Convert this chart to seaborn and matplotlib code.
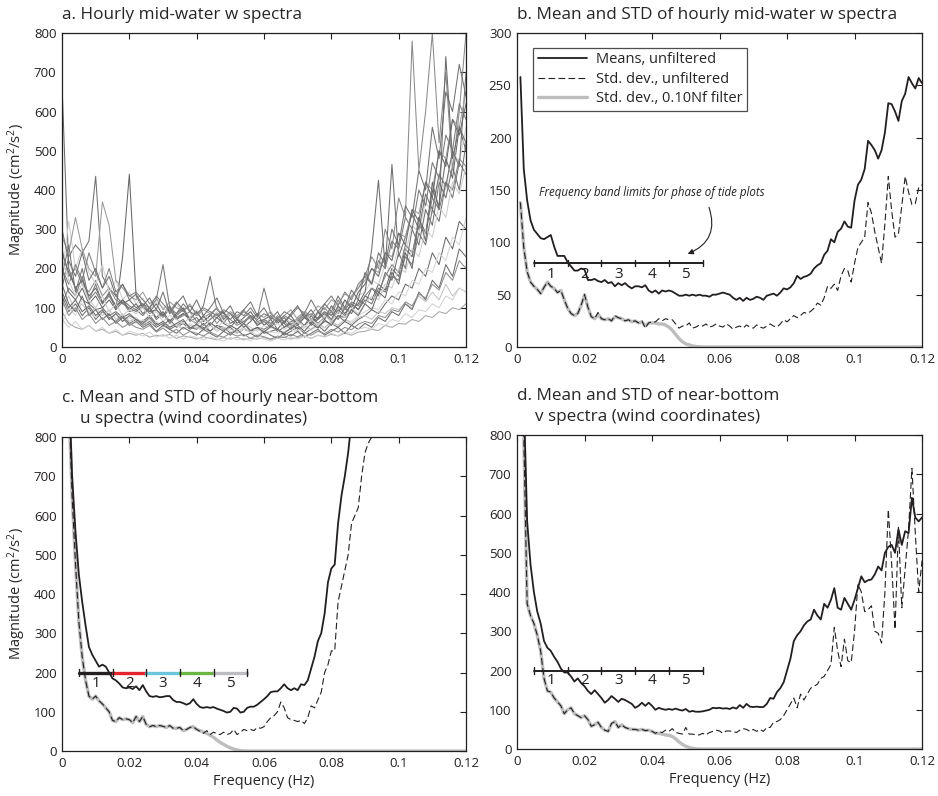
import numpy as np
import pandas as pd
import matplotlib
matplotlib.use("Agg")
import matplotlib.pyplot as plt
import seaborn as sns

# ---- data ----
x_ticks = [0, 0.02, 0.04, 0.06, 0.08, 0.1, 0.12]
x_tick_labels = ["0", "0.02", "0.04", "0.06", "0.08", "0.1", "0.12"]

# panel a: a sample of hourly mid-water w spectra, frequency bins every 0.002 Hz
a_trace_1 = [670, 200, 150, 120, 110, 95, 100, 80, 90, 75, 85,
             70, 65, 80, 60, 55, 70, 50, 60, 45, 55, 50, 40, 55, 45, 50, 35, 45, 40, 50, 35,
             40, 45, 30, 40, 50, 35, 45, 55, 40, 60, 50, 65, 55, 70,
             80, 95, 85, 110, 130, 120, 160, 150, 200, 180, 240, 210, 280, 250, 320, 300]
a_trace_2 = [150, 230, 260, 240, 270, 435, 180, 150, 130, 110, 120,
             100, 110, 90, 95, 80, 105, 75, 85, 70, 90, 65, 80, 75, 60, 85, 70, 65, 80, 55, 70,
             60, 75, 50, 65, 70, 55, 80, 60, 75, 90, 70, 100, 85, 120,
             110, 150, 130, 190, 170, 240, 200, 300, 260, 350, 310, 420, 380, 460, 400, 520]
a_trace_3 = [200, 140, 120, 150, 110, 130, 100, 120, 95, 230, 440,
             130, 100, 90, 110, 80, 95, 70, 85, 75, 90, 65, 80, 100, 70, 85, 60, 75, 90, 65, 70,
             80, 60, 75, 55, 70, 85, 60, 75, 90, 70, 105, 85, 110, 95,
             130, 120, 160, 145, 200, 180, 250, 230, 330, 290, 400, 360, 480, 430, 560, 500]
a_trace_4 = [90, 60, 50, 45, 55, 40, 45, 35, 40, 30, 35,
             30, 35, 25, 30, 28, 32, 22, 28, 25, 20, 26, 22, 18, 24, 20, 25, 18, 22, 20, 24,
             19, 22, 25, 20, 24, 28, 22, 30, 26, 32, 28, 35, 30, 38,
             40, 45, 42, 55, 50, 60, 58, 70, 65, 80, 75, 90, 85, 100, 95, 110]
a_trace_5 = [250, 180, 200, 160, 140, 170, 130, 150, 120, 110, 100,
             90, 105, 85, 95, 75, 100, 70, 80, 90, 65, 75, 85, 60, 80, 70, 55, 65, 75, 60, 70,
             55, 80, 65, 50, 75, 90, 70, 85, 100, 80, 120, 95, 130, 150,
             180, 230, 200, 300, 250, 380, 330, 780, 450, 600, 800, 520, 700, 450, 600, 800]
a_trace_6 = [180, 320, 200, 250, 190, 160, 210, 140, 170, 120, 140,
             110, 125, 95, 115, 100, 85, 110, 90, 75, 95, 80, 70, 90, 65, 85, 75, 60, 80, 70, 55,
             75, 65, 80, 60, 70, 90, 65, 85, 75, 100, 90, 115, 105, 130,
             140, 170, 160, 210, 190, 260, 240, 310, 290, 370, 340, 430, 400, 500, 470, 560]
a_trace_7 = [130, 90, 110, 80, 100, 70, 90, 75, 65, 80, 60,
             70, 55, 65, 50, 60, 45, 55, 65, 50, 45, 60, 40, 55, 50, 35, 45, 60, 40, 50, 45,
             55, 40, 50, 60, 45, 55, 70, 50, 65, 60, 80, 75, 95, 110,
             140, 250, 425, 200, 465, 230, 280, 340, 300, 390, 350, 440, 410, 500, 460, 700]
a_trace_8 = [60, 100, 80, 120, 90, 75, 95, 70, 85, 65, 75,
             60, 70, 55, 65, 50, 60, 55, 45, 60, 50, 40, 55, 45, 50, 40, 35, 45, 40, 30, 42,
             38, 35, 40, 45, 35, 50, 42, 55, 48, 60, 55, 70, 65, 80,
             90, 100, 95, 120, 110, 140, 130, 170, 160, 200, 190, 240, 220, 280, 260, 330]
a_trace_9 = [110, 150, 130, 180, 120, 140, 110, 130, 100, 120, 105,
             95, 110, 100, 120, 210, 100, 85, 110, 90, 80, 105, 180, 95, 85, 70, 90, 80, 100, 75, 150,
             85, 70, 90, 80, 100, 85, 120, 90, 110, 130, 105, 140, 120, 160,
             180, 160, 220, 200, 270, 250, 330, 300, 400, 360, 470, 430, 540, 500, 620, 580]
a_trace_10 = [280, 240, 330, 250, 200, 180, 370, 310, 170, 150, 130,
              120, 140, 110, 125, 95, 115, 100, 90, 110, 80, 95, 85, 100, 75, 90, 80, 95, 70, 85, 75,
              90, 65, 80, 95, 70, 90, 80, 105, 95, 120, 110, 135, 125, 150,
              170, 200, 190, 240, 230, 290, 280, 350, 340, 420, 400, 500, 480, 580, 560, 650]
a_trace_11 = [100, 130, 90, 110, 85, 100, 80, 95, 70, 85, 65,
              75, 60, 70, 55, 65, 50, 60, 45, 55, 50, 45, 55, 40, 50, 45, 40, 50, 35, 45, 40,
              50, 45, 35, 50, 40, 55, 45, 60, 50, 65, 55, 70, 60, 75,
              80, 70, 90, 85, 100, 95, 110, 100, 130, 115, 140, 120, 160, 130, 150, 140]
a_trace_12 = [200, 160, 210, 170, 240, 190, 150, 200, 140, 160, 130,
              140, 120, 100, 130, 110, 90, 115, 95, 105, 85, 100, 90, 80, 95, 85, 75, 90, 80, 70, 85,
              75, 65, 80, 70, 60, 75, 85, 70, 90, 80, 100, 95, 115, 105,
              130, 150, 140, 180, 210, 190, 260, 240, 310, 290, 380, 350, 420, 400, 480, 460]
a_trace_13 = [160, 110, 90, 130, 80, 95, 70, 85, 60, 75, 55,
              65, 50, 60, 40, 55, 45, 35, 50, 40, 30, 45, 35, 25, 40, 30, 45, 28, 35, 25, 40,
              30, 22, 35, 28, 40, 25, 35, 45, 30, 40, 50, 35, 55, 45,
              60, 50, 75, 65, 90, 80, 110, 95, 140, 120, 170, 150, 210, 180, 250, 230]
a_trace_14 = [300, 220, 180, 240, 170, 200, 150, 180, 130, 160, 120,
              135, 105, 125, 95, 140, 85, 110, 130, 90, 120, 80, 100, 125, 85, 105, 70, 95, 115, 80, 100,
              70, 90, 60, 85, 105, 75, 95, 70, 110, 90, 130, 100, 145, 120,
              190, 160, 240, 210, 300, 260, 360, 330, 450, 400, 560, 480, 650, 600, 720, 640]
a_trace_15 = [70, 50, 65, 45, 55, 40, 50, 35, 45, 30, 40,
              35, 28, 38, 25, 32, 22, 30, 20, 28, 24, 18, 26, 20, 15, 25, 18, 22, 16, 24, 20,
              15, 22, 18, 25, 20, 28, 22, 30, 25, 35, 28, 40, 35, 45,
              50, 45, 60, 55, 70, 65, 85, 75, 95, 90, 110, 100, 130, 120, 150, 140]
a_trace_16 = [240, 190, 150, 170, 130, 150, 115, 135, 105, 120, 95,
              110, 85, 100, 75, 90, 65, 85, 100, 70, 60, 80, 55, 75, 90, 60, 70, 50, 65, 85, 55,
              70, 45, 65, 80, 55, 75, 60, 90, 70, 105, 85, 120, 100, 140,
              160, 200, 180, 240, 220, 290, 260, 350, 320, 420, 380, 500, 460, 580, 540, 620]
a_trace_17 = [120, 80, 100, 70, 85, 60, 75, 55, 65, 50, 60,
              50, 45, 55, 38, 48, 35, 45, 30, 40, 35, 28, 38, 30, 25, 35, 28, 32, 22, 30, 26,
              20, 28, 24, 32, 26, 35, 30, 40, 34, 45, 38, 50, 44, 58,
              65, 60, 80, 75, 95, 90, 115, 105, 135, 125, 160, 145, 190, 170, 220, 200]
a_trace_18 = [180, 260, 140, 200, 120, 160, 110, 140, 95, 115, 90,
              95, 80, 100, 70, 85, 60, 80, 95, 65, 75, 55, 70, 85, 60, 50, 70, 60, 80, 55, 65,
              50, 70, 60, 45, 65, 80, 55, 70, 85, 65, 95, 80, 110, 95,
              120, 110, 150, 140, 180, 170, 230, 210, 290, 260, 350, 320, 420, 380, 470, 440]
a_trace_19 = [220, 170, 130, 160, 120, 100, 130, 90, 110, 80, 95,
              85, 100, 75, 90, 65, 80, 70, 60, 75, 55, 70, 60, 50, 65, 55, 45, 60, 50, 40, 55,
              48, 60, 45, 55, 65, 50, 70, 55, 80, 65, 90, 75, 100, 85,
              110, 130, 120, 160, 150, 200, 190, 250, 230, 300, 280, 360, 330, 420, 390, 460]
a_trace_20 = [140, 100, 120, 90, 105, 80, 95, 70, 85, 65, 80,
              70, 60, 75, 55, 65, 50, 60, 70, 48, 58, 45, 62, 50, 40, 55, 45, 60, 42, 50, 38,
              52, 45, 35, 48, 55, 40, 60, 48, 70, 55, 80, 65, 95, 80,
              110, 95, 140, 125, 190, 160, 240, 200, 330, 270, 420, 350, 740, 480, 560, 520]
a_traces = [a_trace_1, a_trace_2, a_trace_3, a_trace_4, a_trace_5, a_trace_6,
            a_trace_7, a_trace_8, a_trace_9, a_trace_10, a_trace_11, a_trace_12,
            a_trace_13, a_trace_14, a_trace_15, a_trace_16, a_trace_17, a_trace_18,
            a_trace_19, a_trace_20]
a_colors = ["#6a6a6a", "#707070", "#666666", "#a8a8a8", "#8a8a8a", "#cfcfcf",
            "#6e6e6e", "#d6d6d6", "#787878", "#9a9a9a", "#c4c4c4", "#808080",
            "#6d6d6d", "#727272", "#d2d2d2", "#686868", "#8e8e8e", "#747474",
            "#cccccc", "#6b6b6b"]

# panels b-d: spectral bins every 0.001 Hz starting at 0.001 Hz
b_mean = [258, 170, 140, 121, 112, 108, 104, 103, 105, 107,
          96, 87, 87, 87, 81, 77, 73, 73, 75, 74,
          64, 64, 65, 63, 62, 64, 61, 62, 58, 61,
          59, 61, 58, 56, 58, 58, 57, 59, 54, 52,
          54, 51, 54, 53, 54, 53, 51, 49, 49, 50,
          49, 50, 49, 50, 49, 49, 48, 50, 50, 51,
          52, 51, 50, 47, 45, 47, 44, 47, 45, 46,
          48, 47, 45, 49, 50, 51, 49, 52, 56, 55,
          57, 61, 68, 65, 67, 68, 70, 75, 78, 80,
          88, 92, 103, 100, 110, 113, 120, 115, 114, 140,
          155, 160, 170, 197, 193, 188, 180, 188, 205, 233,
          232, 225, 216, 235, 242, 258, 252, 247, 257, 252]
b_std = [138, 95, 72, 62, 58, 55, 51, 57, 62, 58,
         56, 52, 54, 45, 37, 32, 30, 32, 40, 50,
         38, 29, 27, 33, 27, 26, 27, 25, 30, 28,
         27, 25, 26, 24, 25, 23, 25, 18, 23, 24,
         24, 27, 25, 27, 26, 26, 22, 18, 20, 20,
         23, 18, 19, 21, 20, 22, 19, 20, 22, 20,
         19, 22, 20, 17, 19, 20, 18, 21, 19, 18,
         21, 19, 18, 20, 22, 20, 19, 22, 26, 24,
         27, 30, 28, 30, 33, 32, 34, 37, 42, 40,
         47, 58, 56, 60, 54, 68, 75, 73, 62, 80,
         95, 100, 105, 138, 128, 110, 95, 80, 118, 163,
         130, 105, 108, 135, 163, 148, 136, 137, 152, 155]
b_filt = [138, 95, 72, 62, 58, 55, 51, 57, 62, 58,
          56, 52, 54, 45, 37, 32, 30, 32, 40, 50,
          38, 29, 27, 31, 27, 26, 27, 25, 29, 28,
          27, 25, 26, 24, 25, 23, 24, 20, 23, 23,
          23, 22, 22, 21, 19, 16, 12, 8, 5, 3,
          2, 1, 0.5, 0.2, 0, 0]

c_mean = [1500, 950, 700, 560, 450, 380, 320, 265, 245, 230,
          215, 220, 215, 200, 185, 180, 172, 162, 160, 162,
          158, 165, 155, 168, 152, 140, 138, 140, 137, 138,
          140, 140, 130, 125, 125, 122, 118, 122, 132, 120,
          112, 110, 112, 110, 112, 108, 105, 102, 98, 100,
          110, 108, 98, 100, 110, 113, 113, 118, 125, 132,
          140, 150, 152, 152, 160, 170, 160, 155, 160, 155,
          170, 168, 180, 210, 240, 280, 300, 350, 430, 465,
          475, 580, 650, 700, 760, 840]
c_std = [1500, 900, 650, 480, 330, 240, 180, 140, 132, 140,
         128, 120, 110, 100, 78, 75, 85, 80, 82, 80,
         72, 88, 75, 88, 68, 62, 65, 62, 65, 63,
         60, 65, 58, 58, 60, 52, 55, 60, 62, 55,
         50, 45, 52, 42, 48, 44, 42, 48, 42, 45,
         55, 42, 48, 55, 52, 55, 52, 60, 58, 62,
         75, 85, 90, 100, 125, 110, 85, 80, 78, 75,
         78, 70, 85, 115, 110, 130, 150, 200, 220, 255,
         255, 380, 420, 460, 500, 580, 600, 620, 700, 760,
         785, 800, 850]
c_filt = [1500, 900, 650, 480, 330, 240, 180, 140, 132, 140,
          128, 120, 110, 100, 78, 75, 85, 80, 82, 80,
          72, 88, 75, 88, 68, 62, 65, 62, 65, 63,
          60, 65, 58, 58, 60, 52, 55, 60, 62, 55,
          52, 48, 45, 40, 35, 28, 22, 17, 12, 8,
          5, 3, 1, 0.3, 0, 0]

d_mean = [1500, 900, 580, 470, 400, 350, 320, 275, 258, 250,
          235, 222, 205, 195, 195, 185, 172, 180, 168, 160,
          148, 140, 150, 140, 130, 118, 125, 135, 128, 120,
          128, 125, 120, 115, 105, 110, 118, 110, 118, 110,
          100, 105, 102, 100, 102, 100, 103, 100, 98, 102,
          95, 97, 95, 95, 96, 98, 100, 105, 104, 105,
          103, 104, 102, 106, 103, 112, 105, 115, 108, 107,
          108, 107, 107, 115, 130, 128, 145, 155, 170, 200,
          230, 275, 290, 300, 315, 325, 330, 355, 340, 330,
          370, 360, 380, 410, 360, 355, 385, 370, 355, 380,
          410, 440, 425, 430, 432, 445, 465, 455, 500, 515,
          520, 500, 560, 520, 555, 550, 640, 590, 580, 590]
d_std = [1500, 800, 370, 340, 320, 290, 250, 180, 148, 145,
         130, 120, 110, 90, 100, 105, 90, 85, 80, 85,
         75, 58, 62, 68, 55, 48, 45, 65, 70, 55,
         62, 55, 52, 50, 50, 48, 50, 47, 48, 45,
         40, 45, 42, 48, 45, 52, 42, 40, 38, 55,
         38, 38, 36, 36, 40, 36, 42, 45, 48, 46,
         40, 46, 46, 45, 42, 48, 52, 50, 45, 50,
         45, 50, 45, 55, 55, 68, 70, 75, 85, 100,
         115, 130, 105, 140, 125, 140, 155, 160, 165, 180,
         185, 200, 215, 310, 250, 210, 280, 225, 220, 300,
         420, 400, 350, 355, 365, 300, 295, 270, 400, 610,
         470, 305, 565, 360, 460, 560, 715, 550, 400, 480]
d_filt = [1500, 800, 370, 340, 320, 290, 250, 180, 148, 145,
          130, 120, 110, 90, 100, 105, 90, 85, 80, 85,
          75, 58, 62, 68, 55, 48, 45, 65, 70, 55,
          62, 55, 52, 50, 50, 48, 50, 47, 48, 45,
          40, 40, 38, 36, 35, 32, 26, 18, 12, 7,
          4, 2, 0.5, 0, 0, 0]

# frequency band limits for the phase-of-tide plots
band_edges = [0.005, 0.015, 0.025, 0.035, 0.045, 0.055]
band_names = ["1", "2", "3", "4", "5"]
band_colors_c = ["#231f20", "#e3262b", "#6cc6d9", "#6bb545", "#bcbdc0"]

# frequency bins
a_freq = np.linspace(0, 0.12, 61)
freq = np.linspace(0.001, 0.12, 120)

# ---- style ----
sns.set_theme(style="white")
plt.rcParams["font.family"] = ["Open Sans", "DejaVu Sans"]
plt.rcParams["mathtext.fontset"] = "custom"
plt.rcParams["mathtext.rm"] = "Open Sans"
plt.rcParams["mathtext.it"] = "Open Sans:italic"

INK = "#231f20"
GRAY = "#bdbdbd"
ylabel = "Magnitude (cm$^2$/s$^2$)"

fig = plt.figure(figsize=(9.38, 7.96), dpi=100)
ax_a = fig.add_axes([0.0661, 0.5641, 0.4307, 0.3944])
ax_b = fig.add_axes([0.5512, 0.5641, 0.4318, 0.3944])
ax_c = fig.add_axes([0.0661, 0.0565, 0.4307, 0.3945])
ax_d = fig.add_axes([0.5512, 0.0590, 0.4318, 0.3945])


def style_axes(ax, ymax, ystep):
    ax.set_xlim(0, 0.12)
    ax.set_ylim(0, ymax)
    ax.set_xticks(x_ticks)
    ax.set_xticklabels(x_tick_labels)
    ax.set_yticks(np.arange(0, ymax + 1, ystep))
    ax.tick_params(direction="in", top=True, right=True, length=4, width=0.8,
                   labelsize=9.5, colors=INK, pad=4)
    for s in ax.spines.values():
        s.set_color(INK)
        s.set_linewidth(0.9)
        s.set_visible(True)
    ax.set_xlabel("")
    ax.set_ylabel("")


def draw_stats(ax, mean, std, filt):
    filt_f = list(freq[:len(filt)]) + [0.12]
    filt_v = list(filt) + [0]
    sns.lineplot(x=filt_f, y=filt_v, ax=ax, color=GRAY, lw=2.4)
    sns.lineplot(x=freq[:len(std)], y=std, ax=ax, color=INK, lw=0.8,
                 linestyle=(0, (6, 3)))
    sns.lineplot(x=freq[:len(mean)], y=mean, ax=ax, color=INK, lw=1.3)


def draw_bands(ax, y, tick_h, label_y, colors, lw):
    for i in range(5):
        sns.lineplot(x=[band_edges[i], band_edges[i + 1]], y=[y, y], ax=ax,
                     color=colors[i], lw=lw)
        ax.text((band_edges[i] + band_edges[i + 1]) / 2, label_y, band_names[i],
                ha="center", va="center", fontsize=11, color=INK)
    for e in band_edges:
        ax.plot([e, e], [y - tick_h, y + tick_h], color=INK, lw=1.0)


# a. hourly spectra
rows = []
for k, tr in enumerate(a_traces):
    for f, v in zip(a_freq, tr):
        rows.append({"trace": k, "freq": f, "mag": v})
df_a = pd.DataFrame(rows)
sns.lineplot(data=df_a, x="freq", y="mag", hue="trace", palette=a_colors,
             lw=0.75, legend=False, ax=ax_a, estimator=None)
style_axes(ax_a, 800, 100)
ax_a.set_ylabel(ylabel, fontsize=10.5, labelpad=4)
ax_a.set_title("a. Hourly mid-water w spectra", loc="left", fontsize=12.3, pad=10)

# b. mean and std, mid-water w
draw_stats(ax_b, b_mean, b_std, b_filt)
style_axes(ax_b, 300, 50)
draw_bands(ax_b, 80, 3, 69, [INK] * 5, 1.4)
ax_b.text(0.040, 148, "Frequency band limits for phase of tide plots",
          style="italic", fontsize=8.3, ha="center", va="center", color=INK)
ax_b.annotate("", xy=(0.0498, 88), xytext=(0.0566, 136),
              arrowprops=dict(arrowstyle="-|>", color=INK, lw=0.8,
                              mutation_scale=8, connectionstyle="arc3,rad=-0.5"))
ax_b.set_title("b. Mean and STD of hourly mid-water w spectra", loc="left",
               fontsize=12.3, pad=10)
handles = [plt.Line2D([], [], color=INK, lw=1.3),
           plt.Line2D([], [], color=INK, lw=0.8, linestyle=(0, (6, 3))),
           plt.Line2D([], [], color=GRAY, lw=2.4)]
leg = ax_b.legend(handles, ["Means, unfiltered", "Std. dev., unfiltered",
                            "Std. dev., 0.10Nf filter"],
                  loc="upper left", bbox_to_anchor=(0.04, 0.953), borderaxespad=0,
                  fontsize=10.5, frameon=True, fancybox=False, handlelength=3.4,
                  borderpad=0.3, labelspacing=0.32, handletextpad=0.6)
leg.get_frame().set_edgecolor(INK)
leg.get_frame().set_linewidth(0.9)

# c. near-bottom u
draw_stats(ax_c, c_mean, c_std, c_filt)
style_axes(ax_c, 800, 100)
draw_bands(ax_c, 200, 10, 172, band_colors_c, 2.4)
ax_c.set_ylabel(ylabel, fontsize=10.5, labelpad=4)
ax_c.set_xlabel("Frequency (Hz)", fontsize=10.5, labelpad=3)
ax_c.set_title("c. Mean and STD of hourly near-bottom\n    u spectra (wind coordinates)",
               loc="left", fontsize=12.3, pad=10, linespacing=1.4)

# d. near-bottom v
draw_stats(ax_d, d_mean, d_std, d_filt)
style_axes(ax_d, 800, 100)
draw_bands(ax_d, 200, 10, 175, [INK] * 5, 1.4)
ax_d.set_xlabel("Frequency (Hz)", fontsize=10.5, labelpad=3)
ax_d.set_title("d. Mean and STD of near-bottom\n    v spectra (wind coordinates)",
               loc="left", fontsize=12.3, pad=10, linespacing=1.4)

fig.savefig("out.png", dpi=100)
